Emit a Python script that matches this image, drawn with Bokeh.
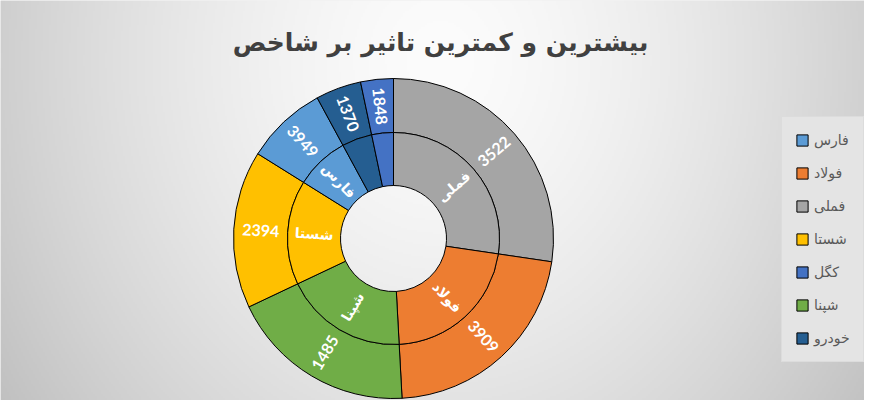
import numpy as np
from bokeh.plotting import figure
from bokeh.models import ColumnDataSource, Range1d, Legend, LegendItem, Label
from bokeh.core.properties import value
from bokeh.embed import file_html
from bokeh.resources import INLINE

# ---------------- data ----------------
title_text = "بیشترین و کمترین تاثیر بر شاخص"
names = ["فملی", "فولاد", "شپنا", "شستا", "فارس", "خودرو", "کگل"]
shares = [27.3, 21.8, 18.8, 15.9, 8.2, 4.6, 3.3]          # slice sizes (% of impact)
values = [3522, 3909, 1485, 2394, 3949, 1370, 1848]      # labels on the outer ring
colors = ["#A5A5A5", "#ED7D31", "#70AD47", "#FFC000", "#5B9BD5", "#255E91", "#4472C4"]
legend_order = ["فارس", "فولاد", "فملی", "شستا", "کگل", "شپنا", "خودرو"]

# ---------------- geometry / layout ----------------
W, H = 880, 416
cx, cy = 393, H - 238
r_hole, r_mid, r_outer = 53, 106, 160

frac = np.array(shares, dtype=float) / np.sum(shares)
cum_end = np.cumsum(frac) * 2 * np.pi
cum_start = cum_end - frac * 2 * np.pi
start = np.pi / 2 - cum_end
end = np.pi / 2 - cum_start
mid = np.pi / 2 - (cum_start + cum_end) / 2
tang = np.where(np.cos(mid) >= 0, mid, mid + np.pi)

r_val = (r_mid + r_outer) / 2
r_nam = (r_hole + r_mid) / 2
src = ColumnDataSource(dict(
    name=names, color=colors, start=start, end=end, angle=tang,
    x=[cx] * len(names), y=[cy] * len(names),
    vx=cx + r_val * np.cos(mid), vy=cy + r_val * np.sin(mid),
    nx=cx + r_nam * np.cos(mid), ny=cy + r_nam * np.sin(mid),
    vtext=[str(v) for v in values],
    ntext=[n if f * 360 >= 20 else "" for n, f in zip(names, frac)],
))

p = figure(width=864, height=400, x_range=Range1d(0, 864), y_range=Range1d(16, 416),
           output_backend="svg", toolbar_location=None, min_border=0,
           x_axis_location=None, y_axis_location=None, outline_line_color=None,
           background_fill_color="#e6e6e6", border_fill_color="#e6e6e6")
p.grid.visible = False

# background radial gradient (chart-area fill)
nxp, nyp = 440, 208
gx = (np.arange(nxp) + 0.5) * (W / nxp)
gy_ref = H - (np.arange(nyp) + 0.5) * (H / nyp)
GX, GY = np.meshgrid(gx, gy_ref)
rr = np.sqrt(((GX - 440) / 520) ** 2 + ((GY - 60) / 600) ** 2)
g = np.clip(252 - 58 * rr ** 1.5, 188, 252).astype(np.uint8)
img = np.empty((nyp, nxp), dtype=np.uint32)
view = img.view(dtype=np.uint8).reshape((nyp, nxp, 4))
view[:, :, 0] = g
view[:, :, 1] = g
view[:, :, 2] = g
view[:, :, 3] = 255
p.image_rgba(image=[img], x=0, y=0, dw=W, dh=H)

# rings
outer = p.annular_wedge(x="x", y="y", inner_radius=r_mid, outer_radius=r_outer,
                        start_angle="start", end_angle="end", fill_color="color",
                        line_color="#000000", line_width=1, source=src)
p.annular_wedge(x="x", y="y", inner_radius=r_hole, outer_radius=r_mid,
                start_angle="start", end_angle="end", fill_color="color",
                line_color="#000000", line_width=1, source=src)

# labels
p.text(x="vx", y="vy", text="vtext", angle="angle", source=src,
       text_font=value("Lato"), text_font_style="bold", text_font_size="16px",
       text_color="white", text_align="center", text_baseline="middle")
p.text(x="nx", y="ny", text="ntext", angle="angle", source=src,
       text_font=value("DejaVu Sans"), text_font_style="bold", text_font_size="14px",
       text_color="white", text_align="center", text_baseline="middle")

# title
p.add_layout(Label(x=440, y=H - 42, text=title_text, text_font="DejaVu Sans",
                   text_font_style="bold", text_font_size="25px", text_color="#404040",
                   text_align="center", text_baseline="middle"))

# legend
items = [LegendItem(label=n, renderers=[outer], index=names.index(n)) for n in legend_order]
legend = Legend(items=items, location=(781, 38), orientation="vertical",
                padding=13, spacing=13, margin=0,
                glyph_width=14, glyph_height=14, label_standoff=5,
                label_height=20, label_width=36,
                label_text_font="DejaVu Sans", label_text_font_size="14px",
                label_text_color="#595959",
                background_fill_color="#e4e4e4", background_fill_alpha=1,
                border_line_color="#d4d4d4", border_line_width=1)
p.add_layout(legend)

open("out.html", "w").write(file_html(p, INLINE))
